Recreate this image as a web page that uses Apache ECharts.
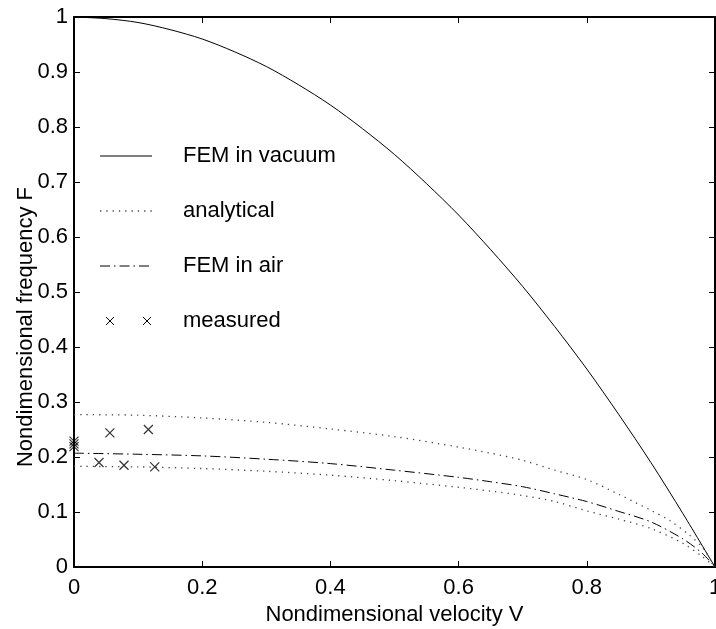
<!DOCTYPE html>
<html>
<head>
<meta charset="utf-8">
<script src="https://cdn.jsdelivr.net/npm/echarts@6/dist/echarts.min.js"></script>
<style>html,body{margin:0;padding:0;background:#fff}#c{width:716px;height:629px}</style>
</head>
<body>
<div id="c"></div>
<script>
// ---- data ----
var xTicks = [0, 0.2, 0.4, 0.6, 0.8, 1];
var yTicks = [0, 0.1, 0.2, 0.3, 0.4, 0.5, 0.6, 0.7, 0.8, 0.9, 1];

var vacuumV = [0, 0.05, 0.1, 0.15, 0.2, 0.25, 0.3, 0.35, 0.4, 0.45, 0.5, 0.55, 0.6, 0.65, 0.7, 0.75, 0.8, 0.85, 0.9, 0.95, 1];
var vacuumF = [1, 0.997, 0.99, 0.977, 0.96, 0.937, 0.91, 0.877, 0.84, 0.797, 0.75, 0.697, 0.64, 0.577, 0.51, 0.437, 0.36, 0.277, 0.19, 0.097, 0];

var analHighV = [0, 0.1, 0.2, 0.3, 0.4, 0.5, 0.6, 0.65, 0.7, 0.75, 0.8, 0.85, 0.9, 0.93, 0.96, 0.98, 1];
var analHighF = [0.277, 0.276, 0.271, 0.263, 0.251, 0.237, 0.218, 0.207, 0.194, 0.176, 0.159, 0.132, 0.103, 0.084, 0.058, 0.036, 0];

var airV = [0, 0.1, 0.2, 0.3, 0.4, 0.5, 0.6, 0.65, 0.7, 0.75, 0.8, 0.85, 0.9, 0.95, 0.98, 1];
var airF = [0.207, 0.205, 0.202, 0.196, 0.188, 0.176, 0.163, 0.155, 0.146, 0.133, 0.119, 0.101, 0.082, 0.051, 0.025, 0];

var analLowV = [0, 0.1, 0.2, 0.3, 0.4, 0.5, 0.6, 0.65, 0.7, 0.75, 0.8, 0.85, 0.9, 0.95, 0.98, 1];
var analLowF = [0.183, 0.182, 0.179, 0.174, 0.167, 0.157, 0.145, 0.138, 0.130, 0.119, 0.102, 0.087, 0.070, 0.043, 0.019, 0];

var measV = [0, 0, 0, 0.056, 0.116, 0.039, 0.078, 0.126];
var measF = [0.229, 0.224, 0.219, 0.244, 0.250, 0.190, 0.185, 0.182];

var legendNames = ['FEM in vacuum', 'analytical', 'FEM in air', 'measured'];
var xName = 'Nondimensional velocity V';
var yName = 'Nondimensional frequency F';

function zip(a, b) { return a.map(function (v, i) { return [v, b[i]]; }); }

var FONT = '"Liberation Sans", Arial, Helvetica, sans-serif';
var crossPath = 'path://M0,0L10,10M10,0L0,10';
var dotType = [1.3, 5];
var dashDotType = [10, 4, 1.5, 4];
var dotColor = '#444';

var chart = echarts.init(document.getElementById('c'), null, {renderer: 'canvas'});

function axisCommon(showLabel) {
  return {
    type: 'value', min: 0, max: 1,
    axisLine: {show: true, onZero: false, lineStyle: {color: '#000', width: 2}},
    axisTick: {show: true, inside: true, length: 6, lineStyle: {color: '#000', width: 1}},
    splitLine: {show: false},
    axisLabel: {show: showLabel, color: '#000', fontFamily: FONT, fontSize: 22}
  };
}

var xBottom = axisCommon(true);
xBottom.interval = 0.2; xBottom.position = 'bottom';
xBottom.axisLabel.margin = 10;
xBottom.name = xName; xBottom.nameLocation = 'middle'; xBottom.nameGap = 34;
xBottom.nameTextStyle = {color: '#000', fontFamily: FONT, fontSize: 22};
var xTop = axisCommon(false); xTop.interval = 0.2; xTop.position = 'top';

var yLeft = axisCommon(true); yLeft.interval = 0.1; yLeft.position = 'left';
yLeft.axisLabel.margin = 6;
var yRight = axisCommon(false); yRight.interval = 0.1; yRight.position = 'right';

var lx0 = 100, lx1 = 152, ltx = 183, ly0 = 156, ldy = 55;
function cross(cx, cy) {
  return [
    {type: 'line', shape: {x1: cx - 4, y1: cy - 4, x2: cx + 4, y2: cy + 4}, style: {stroke: '#000', lineWidth: 1}},
    {type: 'line', shape: {x1: cx - 4, y1: cy + 4, x2: cx + 4, y2: cy - 4}, style: {stroke: '#000', lineWidth: 1}}
  ];
}
var graphics = [
  {type: 'text', x: 26, y: 327, rotation: Math.PI / 2,
   style: {text: yName, fill: '#000', font: '22px ' + FONT, align: 'center', verticalAlign: 'middle'}},
  {type: 'line', shape: {x1: lx0, y1: ly0, x2: lx1, y2: ly0}, style: {stroke: '#000', lineWidth: 1}},
  {type: 'line', shape: {x1: lx0, y1: ly0 + ldy, x2: lx1, y2: ly0 + ldy}, style: {stroke: dotColor, lineWidth: 1.3, lineDash: dotType}},
  {type: 'line', shape: {x1: lx0, y1: ly0 + 2 * ldy, x2: lx1, y2: ly0 + 2 * ldy}, style: {stroke: '#000', lineWidth: 1, lineDash: dashDotType}}
].concat(cross(110, ly0 + 3 * ldy), cross(147, ly0 + 3 * ldy));
legendNames.forEach(function (n, i) {
  graphics.push({type: 'text', x: ltx, y: ly0 + i * ldy,
    style: {text: n, fill: '#000', font: '22px ' + FONT, align: 'left', verticalAlign: 'middle'}});
});

chart.setOption({
  animation: false,
  backgroundColor: '#fff',
  grid: {left: 74, right: 1, top: 17, bottom: 62, containLabel: false, outerBoundsMode: 'none'},
  xAxis: [xBottom, xTop],
  yAxis: [yLeft, yRight],
  graphic: graphics,
  series: [
    {name: legendNames[0], type: 'line', data: zip(vacuumV, vacuumF), smooth: 0.3, symbol: 'none',
     lineStyle: {color: '#000', width: 1}},
    {name: legendNames[1], type: 'line', data: zip(analHighV, analHighF), smooth: 0.3, symbol: 'none',
     lineStyle: {color: dotColor, width: 1.3, type: dotType}},
    {name: legendNames[1] + ' (lower)', type: 'line', data: zip(analLowV, analLowF), smooth: 0.3, symbol: 'none',
     lineStyle: {color: dotColor, width: 1.3, type: dotType}},
    {name: legendNames[2], type: 'line', data: zip(airV, airF), smooth: 0.3, symbol: 'none',
     lineStyle: {color: '#000', width: 1, type: dashDotType}},
    {name: legendNames[3], type: 'scatter', data: zip(measV, measF), symbol: crossPath, symbolSize: 9,
     itemStyle: {color: 'rgba(0,0,0,0)', borderColor: '#000', borderWidth: 1.2}}
  ]
});
</script>
</body>
</html>
